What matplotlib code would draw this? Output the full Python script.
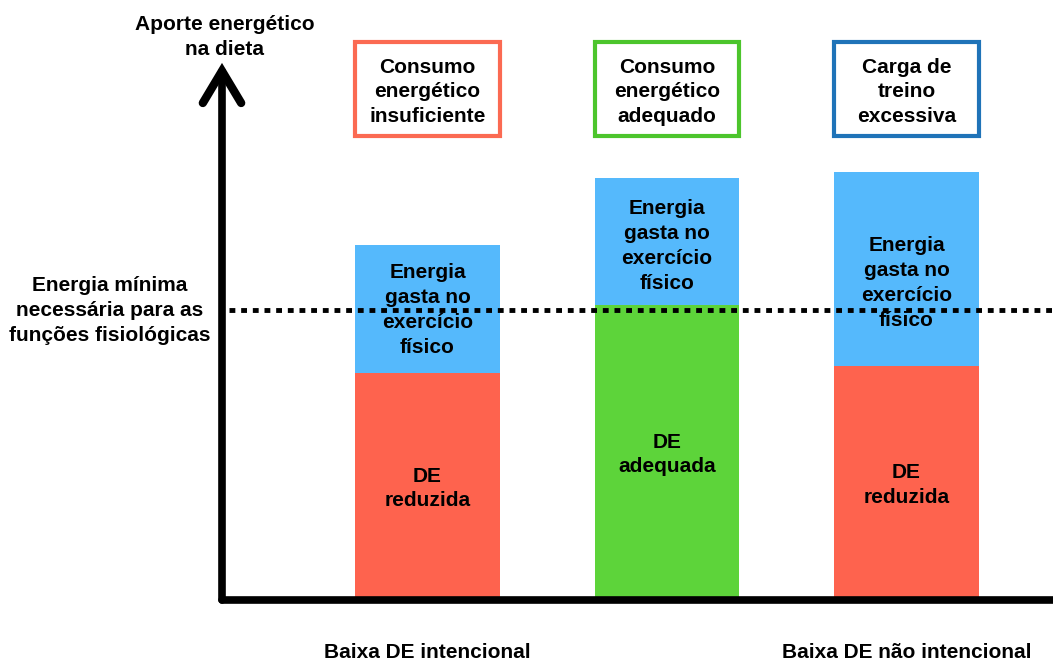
import matplotlib
matplotlib.use("Agg")
import matplotlib.pyplot as plt
import numpy as np

# data (arbitrary energy units)
positions = [1, 2, 3]
base_vals = [22.7, 29.5, 23.4]          # DE reduzida / adequada / reduzida
exercise_vals = [12.8, 12.7, 19.4]      # energia gasta no exercício
threshold = 29.0                        # energia mínima necessária

base_colors = ['#FE634E', '#5DD43A', '#FE634E']
exercise_color = '#55B9FC'
box_colors = ['#FB6A52', '#4CC52C', '#1F73B8']

base_labels = ['DE\nreduzida', 'DE\nadequada', 'DE\nreduzida']
exercise_label = 'Energia\ngasta no\nexercício\nfísico'
box_labels = ['Consumo\nenergético\ninsuficiente',
              'Consumo\nenergético\nadequado',
              'Carga de\ntreino\nexcessiva']
bottom_labels = [(1, 'Baixa DE intencional'), (3, 'Baixa DE não intencional')]

plt.rcParams['font.family'] = ['Liberation Sans', 'DejaVu Sans']
FS = 15
LS = 1.4

fig = plt.figure(figsize=(10.53, 6.61), dpi=100)
ax = fig.add_axes([0, 0, 1, 1])
# pixel-ish layout: bar spacing 239.5 px, 10 px per unit
ax.set_xlim((0 - 427.5) / 239.5 + 1, (1053 - 427.5) / 239.5 + 1)
ax.set_ylim(-6.1, 60.0)
ax.axis('off')

bw = 0.605
ax.bar(positions, base_vals, bw, color=base_colors, zorder=2)
ax.bar(positions, exercise_vals, bw, bottom=base_vals, color=exercise_color, zorder=2)

# small vertical nudges of the labels inside the blue parts
ex_offsets = [-0.1, -0.5, -1.4]
for x, b, e, lab, off in zip(positions, base_vals, exercise_vals, base_labels, ex_offsets):
    ax.text(x, b / 2 - 0.2, lab, ha='center', va='center', fontsize=FS,
            fontweight='bold', linespacing=LS, zorder=5)
    ax.text(x, b + e / 2 + off, exercise_label, ha='center', va='center', fontsize=FS,
            fontweight='bold', linespacing=LS, zorder=5)

# boxes above bars
box_bottom, box_h = 46.4, 9.4
ax.bar(positions, box_h, bw, bottom=box_bottom, fill=False,
       edgecolor=box_colors, linewidth=3, zorder=2)
for x, lab in zip(positions, box_labels):
    ax.text(x, box_bottom + box_h / 2 - 0.3, lab, ha='center', va='center', fontsize=FS,
            fontweight='bold', linespacing=1.35)

# threshold dotted line
x0 = (222 - 427.5) / 239.5 + 1
ax.plot([x0 + 0.03, 3.62], [threshold, threshold], color='black', lw=3.5,
        linestyle=(0, (1.2, 1.2)), zorder=4)

# axes, hand-drawn style
ytop = 52.9
ax.plot([x0, x0], [0, ytop], color='black', lw=5.5, solid_capstyle='round', zorder=6)
ax.plot([x0, 3.62], [0, 0], color='black', lw=5.5, solid_capstyle='round', zorder=6)
ax.plot([x0 - 0.08, x0, x0 + 0.08], [ytop - 3.2, ytop, ytop - 3.2], color='black',
        lw=6, solid_capstyle='round', solid_joinstyle='miter', zorder=6)

ax.text(x0 + 0.01, 56.3, 'Aporte energético\nna dieta', ha='center', va='center',
        fontsize=FS, fontweight='bold', linespacing=LS)
ax.text((110 - 427.5) / 239.5 + 1, threshold - 0.1,
        'Energia mínima\nnecessária para as\nfunções fisiológicas',
        ha='center', va='center', fontsize=FS, fontweight='bold', linespacing=LS)

for x, lab in bottom_labels:
    ax.text(x, -5.2, lab, ha='center', va='center', fontsize=FS, fontweight='bold')

fig.savefig('out.png', dpi=100, facecolor='white')
